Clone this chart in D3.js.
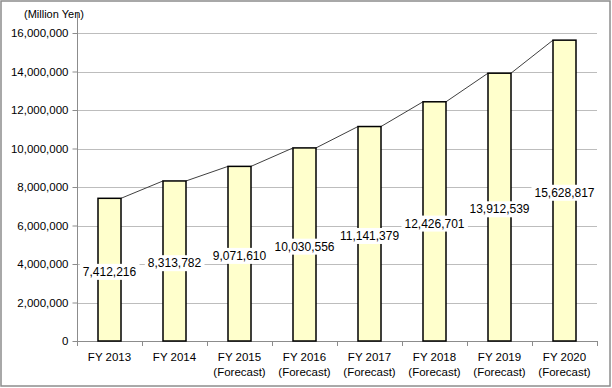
<!DOCTYPE html>
<html>
<head>
<meta charset="utf-8">
<script src="https://cdn.jsdelivr.net/npm/d3@7"></script>
<style>
  body { margin: 0; background: #fff; }
  text { font-family: "Century Gothic", "Liberation Sans", sans-serif; fill: #000; }
</style>
</head>
<body>
<svg id="chart" width="612" height="388"></svg>
<script>
// data
const years = ['FY 2013', 'FY 2014', 'FY 2015', 'FY 2016', 'FY 2017', 'FY 2018', 'FY 2019', 'FY 2020'];
const subLabels = ['', '', '(Forecast)', '(Forecast)', '(Forecast)', '(Forecast)', '(Forecast)', '(Forecast)'];
const values = [7412216, 8313782, 9071610, 10030556, 11141379, 12426701, 13912539, 15628817];
const yTicks = [0, 2000000, 4000000, 6000000, 8000000, 10000000, 12000000, 14000000, 16000000];

const svg = d3.select('#chart');
const W = 612, H = 388;
const margin = { top: 33, right: 15, bottom: 47, left: 77 };
const plotW = W - margin.left - margin.right;
const plotH = H - margin.top - margin.bottom;

//outer frame
svg.append('rect')
  .attr('x', 1).attr('y', 1)
  .attr('width', W - 3).attr('height', H - 3)
  .attr('fill', '#fff')
  .attr('stroke', '#8c8c8c')
  .attr('stroke-width', 1.5);

const g = svg.append('g')
  .attr('transform', 'translate(' + margin.left + ',' + margin.top + ')');

const x = d3.scaleBand().domain(years).range([0, plotW]);
const y = d3.scaleLinear().domain([0, 16000000]).range([plotH, 0]);
const fmt = d3.format(',');
const barW = 23;

//gridlines
g.append('g')
  .selectAll('line')
  .data(yTicks.slice(1))
  .enter()
  .append('line')
  .attr('x1', 0).attr('x2', plotW)
  .attr('y1', d => Math.round(y(d)) + 0.5)
  .attr('y2', d => Math.round(y(d)) + 0.5)
  .attr('stroke', '#bdbdbd')
  .attr('stroke-width', 1);

//y axis
const yAxis = g.append('g')
  .attr('transform', 'translate(0.5,0)')
  .call(d3.axisLeft(y).tickValues(yTicks).tickFormat(fmt).tickSize(5).tickPadding(4));
yAxis.select('.domain').remove();
yAxis.selectAll('line').attr('stroke', '#8c8c8c');
yAxis.selectAll('text').style('font-size', '11.5px').attr('fill', '#000');
g.append('line')
  .attr('x1', 0.5).attr('x2', 0.5)
  .attr('y1', -20).attr('y2', plotH)
  .attr('stroke', '#8c8c8c');

//x axis
g.append('line')
  .attr('x1', 0).attr('x2', plotW)
  .attr('y1', plotH + 0.5).attr('y2', plotH + 0.5)
  .attr('stroke', '#8c8c8c');
g.append('g')
  .selectAll('line')
  .data(d3.range(years.length + 1))
  .enter()
  .append('line')
  .attr('x1', d => Math.round(d * x.step()) + 0.5)
  .attr('x2', d => Math.round(d * x.step()) + 0.5)
  .attr('y1', plotH).attr('y2', plotH + 5)
  .attr('stroke', '#8c8c8c');

const cat = g.append('g')
  .selectAll('text')
  .data(years)
  .enter()
  .append('text')
  .attr('text-anchor', 'middle')
  .attr('x', d => x(d) + x.bandwidth() / 2)
  .attr('y', plotH + 20)
  .style('font-size', '11.5px');
cat.append('tspan').text(d => d);
cat.append('tspan')
  .attr('x', d => x(d) + x.bandwidth() / 2)
  .attr('dy', 15)
  .text((d, i) => subLabels[i]);

//series lines between bar tops
const cx = d => x(d) + x.bandwidth() / 2;
const seg = d3.range(values.length - 1);
g.append('g')
  .selectAll('line')
  .data(seg)
  .enter()
  .append('line')
  .attr('x1', i => cx(years[i]) + barW / 2)
  .attr('y1', i => y(values[i]))
  .attr('x2', i => cx(years[i + 1]) - barW / 2)
  .attr('y2', i => y(values[i + 1]))
  .attr('stroke', '#404040')
  .attr('stroke-width', 1);

//bars
g.append('g')
  .selectAll('rect')
  .data(values)
  .enter()
  .append('rect')
  .attr('x', (d, i) => cx(years[i]) - barW / 2)
  .attr('y', d => y(d))
  .attr('width', barW)
  .attr('height', d => plotH - y(d))
  .attr('fill', '#ffffcc')
  .attr('stroke', '#000')
  .attr('stroke-width', 1.5);

//data labels with white boxes
const lab = g.append('g')
  .selectAll('g')
  .data(values)
  .enter()
  .append('g')
  .attr('transform', (d, i) => 'translate(' + cx(years[i]) + ',' + (y(d / 2) + 2) + ')');
lab.append('text')
  .attr('text-anchor', 'middle')
  .attr('dy', '0.35em')
  .style('font-size', '12px')
  .text(d => fmt(d));
lab.each(function () {
  const t = d3.select(this).select('text');
  const b = t.node().getBBox();
  d3.select(this).insert('rect', 'text')
    .attr('x', b.x - 3).attr('y', b.y - 1)
    .attr('width', b.width + 6).attr('height', b.height + 2)
    .attr('fill', '#fff');
});

//unit label
svg.append('text')
  .attr('x', 24).attr('y', 18)
  .style('font-size', '11px')
  .text('(Million Yen)');
</script>
</body>
</html>
